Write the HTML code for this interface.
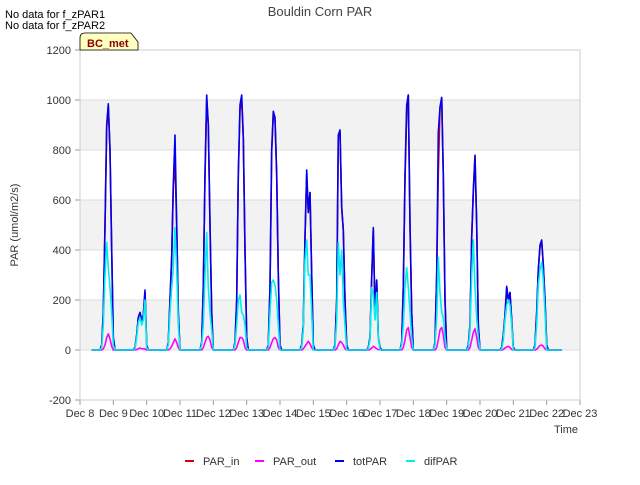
<!DOCTYPE html>
<html><head><meta charset="utf-8"><style>
body{margin:0;background:#fff;font-family:"Liberation Sans",sans-serif}
svg text{font-family:"Liberation Sans",sans-serif}
</style></head><body>
<svg id="chart" width="640" height="480" xmlns="http://www.w3.org/2000/svg">
<text x="5" y="18" font-size="11" fill="#000">No data for f_zPAR1</text>
<text x="5" y="29" font-size="11" fill="#000">No data for f_zPAR2</text>
<text x="320" y="16" font-size="13" fill="#444" text-anchor="middle">Bouldin Corn PAR</text>
<g id="plot"></g>
<g>
<path d="M80,50 L80,38 Q80,33 85,33 L131,33 L138,42 L138,50 Z" fill="#ffffc0" stroke="#000" stroke-width="0.8"/>
<text x="87" y="47" font-size="11" font-weight="bold" fill="#8b0000">BC_met</text>
</g>
<text x="18" y="225" font-size="11" fill="#333" text-anchor="middle" transform="rotate(-90 18 225)">PAR (umol/m2/s)</text>
<text x="578" y="433" font-size="11" fill="#333" text-anchor="end">Time</text>
<g id="legend"></g>
</svg>
<script>
const dayLabels=["Dec 8","Dec 9","Dec 10","Dec 11","Dec 12","Dec 13","Dec 14","Dec 15","Dec 16","Dec 17","Dec 18","Dec 19","Dec 20","Dec 21","Dec 22","Dec 23"];
const yTicks=[-200,0,200,400,600,800,1000,1200];
const sampleOffsets=[0.60,0.65,0.70,0.75,0.80,0.85,0.90,0.95,1.00,1.05];
const totPAR=[
[0,20,150,500,900,985,800,400,50,0],
[0,10,60,130,150,120,140,240,20,0],
[0,30,200,370,660,860,500,150,0,0],
[0,30,250,700,1020,900,500,150,0,0],
[0,30,200,700,980,1020,850,400,50,0],
[0,20,250,800,955,930,700,300,20,0],
[0,20,100,450,720,550,630,300,20,0],
[0,20,200,860,880,570,480,200,20,0],
[0,10,50,290,490,150,280,50,10,0],
[0,30,250,700,980,1020,500,150,0,0],
[0,30,300,870,970,1010,700,200,0,0],
[0,20,100,450,630,775,500,100,0,0],
[0,10,60,140,255,200,230,120,10,0],
[0,20,150,320,420,440,340,200,20,0]];
const PAR_in=[
[0,20,150,490,890,975,800,400,50,0],
[0,10,60,130,150,120,140,230,20,0],
[0,30,200,370,660,740,500,150,0,0],
[0,30,250,700,1000,900,500,150,0,0],
[0,30,200,700,960,1000,850,400,50,0],
[0,20,250,800,940,920,700,300,20,0],
[0,20,100,450,700,550,630,300,20,0],
[0,20,200,850,870,570,480,200,20,0],
[0,10,50,290,480,150,280,50,10,0],
[0,30,250,680,960,1020,500,150,0,0],
[0,30,300,700,970,1010,700,200,0,0],
[0,20,100,450,640,780,500,100,0,0],
[0,10,60,140,250,200,230,120,10,0],
[0,20,150,320,410,430,340,200,20,0]];
const PAR_out=[
[0,0,5,20,50,65,45,15,0,0],
[0,0,2,5,8,5,5,5,0,0],
[0,0,5,15,30,45,30,10,0,0],
[0,0,10,30,50,55,40,10,0,0],
[0,0,10,30,50,50,40,10,0,0],
[0,0,10,30,45,50,40,10,0,0],
[0,0,5,15,25,35,25,10,0,0],
[0,0,5,20,35,30,20,5,0,0],
[0,0,2,8,15,10,5,2,0,0],
[0,0,10,40,80,90,50,10,0,0],
[0,0,10,40,80,90,60,10,0,0],
[0,0,10,40,70,85,50,10,0,0],
[0,0,2,8,12,15,10,2,0,0],
[0,0,3,10,18,20,15,5,0,0]];
const difPAR=[
[0,10,100,300,430,330,250,150,20,0],
[0,5,50,110,130,100,120,200,10,0],
[0,20,150,250,330,490,320,100,0,0],
[0,20,100,300,470,250,150,80,0,0],
[0,20,100,200,220,150,140,100,10,0],
[0,10,150,270,280,260,200,100,0,0],
[0,10,80,360,440,300,300,150,0,0],
[0,10,120,430,300,400,200,100,0,0],
[0,5,40,250,220,120,230,50,0,0],
[0,20,100,250,330,250,150,50,0,0],
[0,20,130,370,230,150,130,50,0,0],
[0,10,80,300,440,250,130,50,0,0],
[0,5,40,120,180,200,180,100,0,0],
[0,10,100,260,320,350,280,150,0,0]];
const seriesNames=["PAR_in","PAR_out","totPAR","difPAR"];
const seriesColors=["#dd0000","#ff00ff","#0000ee","#00eeee"];
const seriesData=[PAR_in,PAR_out,totPAR,difPAR];
const startT=0.35,endT=14.45;

const NS="http://www.w3.org/2000/svg";
const X0=80,X1=580,Y0=50,Y1=400;
const xs=t=>X0+(X1-X0)*t/15;
const ys=v=>Y1-(Y1-Y0)*(v+200)/1400;
const plot=document.getElementById('plot');
function mk(tag,a,parent){const e=document.createElementNS(NS,tag);for(const k in a)e.setAttribute(k,a[k]);(parent||plot).appendChild(e);return e;}
for(let i=0;i<yTicks.length-1;i++){
  const lo=yTicks[i],hi=yTicks[i+1];
  const gray=(lo===0||lo===400||lo===800);
  const r=mk('rect',{x:X0,y:ys(hi),width:X1-X0,height:ys(lo)-ys(hi),fill:gray?'#f2f2f2':'#ffffff'});
  
  
}
yTicks.forEach(v=>{
  const l=mk('line',{x1:X0,x2:X1,y1:ys(v),y2:ys(v),stroke:'#dcdcdc','stroke-width':1});
  
  
  const t=mk('text',{x:X0-9,y:ys(v)+4,'font-size':11,fill:'#333','text-anchor':'end'});
  t.textContent=v;
  
  
  mk('line',{x1:X0-5,x2:X0,y1:ys(v),y2:ys(v),stroke:'#999'});
});
dayLabels.forEach((d,i)=>{
  const t=mk('text',{x:xs(i),y:Y1+17,'font-size':11,fill:'#333','text-anchor':'middle'});
  t.textContent=d;
  
  
  mk('line',{x1:xs(i),x2:xs(i),y1:Y1,y2:Y1+5,stroke:'#999'});
});
mk('rect',{x:X0,y:Y0,width:X1-X0,height:Y1-Y0,fill:'none',stroke:'#ccc'});
seriesData.forEach((days,si)=>{
  const pts=[[startT,0]];
  days.forEach((vals,d)=>{vals.forEach((v,j)=>pts.push([d+sampleOffsets[j],v]));});
  pts.push([endT,0]);
  const p=mk('polyline',{points:pts.map(p=>xs(p[0]).toFixed(1)+','+ys(p[1]).toFixed(1)).join(' '),fill:'none',stroke:seriesColors[si],'stroke-width':1.6,'stroke-linejoin':'round'});
  
  
});
const lg=document.getElementById('legend');
const lx=[203,273,353,424];
seriesNames.forEach((n,i)=>{
  const g=mk('g',{},lg);
  
  
  mk('line',{x1:lx[i]-18,x2:lx[i]-9,y1:461,y2:461,stroke:seriesColors[i],'stroke-width':2},g);
  const t=mk('text',{x:lx[i],y:465,'font-size':11,fill:'#333'},g);
  t.textContent=n;
});
</script>
</body></html>
